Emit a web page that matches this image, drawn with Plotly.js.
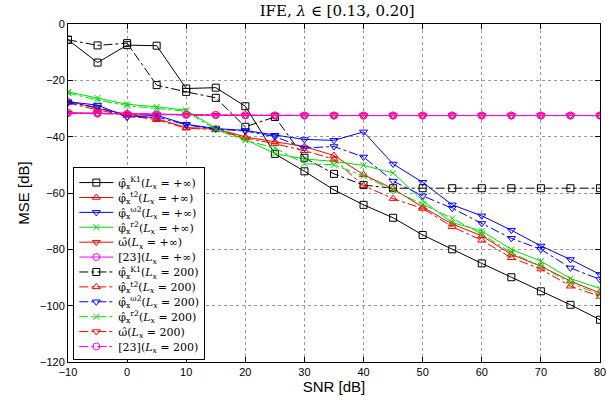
<!DOCTYPE html>
<html><head><meta charset="utf-8">
<script src="https://cdn.plot.ly/plotly-3.0.1.min.js"></script>
<style>body{margin:0;padding:0;background:#fff}#plot{width:613px;height:400px}</style>
</head><body><div id="plot"></div>
<script>
const snr = [-10,-5,0,5,10,15,20,25,30,35,40,45,50,55,60,65,70,75,80];

const k1Inf   = [-5.6,-13.7,-7.5,-7.7,-22.9,-22.6,-29.2,-46.1,-52.3,-58.9,-64.2,-68.8,-74.9,-80.0,-85.0,-89.9,-94.9,-99.7,-105.0];
const t2Inf   = [-27.3,-30.0,-32.0,-33.6,-36.8,-37.1,-40.1,-41.9,-43.5,-46.7,-53.5,-58.5,-65.0,-71.0,-75.2,-81.8,-86.0,-91.3,-95.5];
const w2Inf   = [-27.6,-28.8,-33.0,-32.4,-35.6,-37.1,-37.8,-39.5,-41.0,-41.3,-38.3,-49.7,-56.2,-64.2,-68.1,-73.2,-78.8,-83.6,-88.9];
const r2Inf   = [-24.1,-26.2,-28.5,-29.4,-30.6,-37.0,-41.0,-46.0,-47.9,-48.8,-50.2,-52.9,-62.7,-70.5,-73.5,-80.0,-84.2,-90.4,-93.9];
const omInf   = [-31.6,-31.8,-32.0,-32.2,-32.3,-32.4,-32.5,-32.5,-32.5,-32.5,-32.5,-32.5,-32.5,-32.5,-32.5,-32.5,-32.5,-32.5,-32.5];
const refInf  = [-31.5,-31.7,-31.9,-32.1,-32.2,-32.3,-32.4,-32.5,-32.5,-32.5,-32.5,-32.5,-32.5,-32.5,-32.5,-32.5,-32.5,-32.5,-32.5];

const k1L200  = [-5.6,-7.6,-6.8,-21.7,-24.1,-26.2,-36.5,-33.0,-47.5,-53.2,-57.2,-58.3,-58.3,-58.3,-58.3,-58.3,-58.3,-58.3,-58.3];
const t2L200  = [-28.0,-30.5,-32.5,-34.0,-37.0,-37.5,-40.5,-42.5,-45.0,-48.0,-57.4,-62.0,-65.5,-72.0,-76.8,-83.0,-87.0,-93.1,-96.7];
const w2L200  = [-28.0,-29.5,-33.0,-33.0,-35.8,-37.3,-38.0,-40.0,-44.0,-43.5,-47.2,-55.8,-61.0,-65.4,-70.8,-76.1,-80.0,-86.6,-90.7];
const r2L200  = [-24.5,-27.0,-29.0,-30.0,-31.0,-37.5,-41.3,-44.0,-49.6,-50.0,-54.0,-59.0,-64.0,-69.0,-74.6,-81.2,-86.0,-91.9,-96.1];
const omL200  = [-31.7,-31.9,-32.1,-32.2,-32.3,-32.4,-32.5,-32.5,-32.5,-32.5,-32.5,-32.5,-32.5,-32.5,-32.5,-32.5,-32.5,-32.5,-32.5];
const refL200 = [-31.6,-31.8,-32.0,-32.1,-32.2,-32.3,-32.4,-32.5,-32.5,-32.5,-32.5,-32.5,-32.5,-32.5,-32.5,-32.5,-32.5,-32.5,-32.5];

const labels = [
  "φ̂<sub>x</sub><sup>K1</sup>(<i>L<sub>x</sub></i> = +∞)",
  "φ̂<sub>x</sub><sup>t2</sup>(<i>L<sub>x</sub></i> = +∞)",
  "φ̂<sub>x</sub><sup>ω2</sup>(<i>L<sub>x</sub></i> = +∞)",
  "φ̂<sub>x</sub><sup>r2</sup>(<i>L<sub>x</sub></i> = +∞)",
  "ω̂(<i>L<sub>x</sub></i> = +∞)",
  "[23](<i>L<sub>x</sub></i> = +∞)",
  "φ̂<sub>x</sub><sup>K1</sup>(<i>L<sub>x</sub></i> = 200)",
  "φ̂<sub>x</sub><sup>t2</sup>(<i>L<sub>x</sub></i> = 200)",
  "φ̂<sub>x</sub><sup>ω2</sup>(<i>L<sub>x</sub></i> = 200)",
  "φ̂<sub>x</sub><sup>r2</sup>(<i>L<sub>x</sub></i> = 200)",
  "ω̂(<i>L<sub>x</sub></i> = 200)",
  "[23](<i>L<sub>x</sub></i> = 200)"
];

const series = [k1Inf,t2Inf,w2Inf,r2Inf,omInf,refInf,k1L200,t2L200,w2L200,r2L200,omL200,refL200];
const colors = ['#000000','#ff0000','#0000ff','#00e000','#ff0000','#ff00ff'];
const symbols = ['square-open','triangle-up-open','triangle-down-open','x-thin-open','triangle-down-open','circle-open'];

const traces = series.map((ys,i)=>{
  const k = i % 6;
  return {
    x: snr, y: ys, name: labels[i], type:'scatter', mode:'lines+markers',
    line:{color:colors[k], width:1, dash: i<6 ? 'solid' : 'dashdot'},
    marker:{symbol:symbols[k], size: k===3?6:7, color:colors[k], line:{color:colors[k], width:1}}
  };
});

const layout = {
  width:613, height:400,
  margin:{l:68, r:13, t:24, b:38},
  paper_bgcolor:'#fff', plot_bgcolor:'#fff',
  title:{text:'IFE, <i>λ</i> ∈ [0.13, 0.20]', font:{family:'DejaVu Serif, serif', size:15, color:'#000'}, x:0.55, xanchor:'center', y:0.972, yanchor:'middle'},
  xaxis:{range:[-10,80], dtick:10, tick0:-10, ticks:'inside', ticklen:5, tickcolor:'#000', mirror:'ticks', showline:true, linecolor:'#000', linewidth:1,
    showgrid:true, gridcolor:'#999', griddash:'dot', gridwidth:1, zeroline:false,
    tickfont:{family:'Liberation Sans, Arial, sans-serif', size:11, color:'#000'},
    title:{text:'SNR [dB]', font:{family:'Liberation Sans, Arial, sans-serif', size:15, color:'#000'}, standoff:4}},
  yaxis:{range:[-120,0], dtick:20, ticks:'inside', ticklen:5, tickcolor:'#000', mirror:'ticks', showline:true, linecolor:'#000', linewidth:1,
    showgrid:true, gridcolor:'#999', griddash:'dot', gridwidth:1, zeroline:false,
    tickfont:{family:'Liberation Sans, Arial, sans-serif', size:11, color:'#000'},
    title:{text:'MSE [dB]', font:{family:'Liberation Sans, Arial, sans-serif', size:15, color:'#000'}, standoff:6}},
  legend:{x:0.01, y:0.006, xanchor:'left', yanchor:'bottom', bgcolor:'#fff', bordercolor:'#000', borderwidth:1,
    font:{family:'DejaVu Serif, serif', size:11, color:'#000'}, tracegroupgap:0, itemwidth:34},
  showlegend:true
};

Plotly.newPlot('plot', traces, layout, {displayModeBar:false, staticPlot:true}).then(gd => {
  // tighten legend row spacing to match the compact reference legend
  const leg = gd.querySelector('g.legend');
  if (!leg) return;
  const re = /translate\(\s*([-\d.eE]+)[ ,]+([-\d.eE]+)\s*\)/;
  const items = leg.querySelectorAll('g.traces');
  const step = 14.9;
  let y0 = null, oldLast = 0;
  items.forEach((it, i) => {
    const m = re.exec(it.getAttribute('transform') || '');
    const x = m ? parseFloat(m[1]) : 0, y = m ? parseFloat(m[2]) : 0;
    if (i === 0) y0 = y;
    oldLast = y;
    it.setAttribute('transform', 'translate(' + x + ',' + (y0 + i * step) + ')');
  });
  const shrink = (oldLast - y0) - (items.length - 1) * step;
  const bg = leg.querySelector('rect.bg');
  if (bg) {
    const h = parseFloat(bg.getAttribute('height'));
    bg.setAttribute('height', h - shrink - 2);
  }
  const lm = re.exec(leg.getAttribute('transform') || '');
  if (lm) {
    leg.setAttribute('transform', 'translate(' + parseFloat(lm[1]) + ',' + (parseFloat(lm[2]) + shrink + 2) + ')');
  }
});
</script></body></html>
